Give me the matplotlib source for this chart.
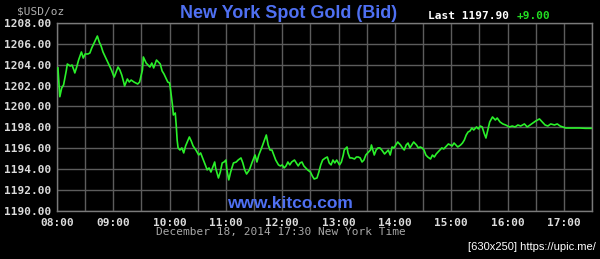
import matplotlib
matplotlib.use("Agg")
import matplotlib.pyplot as plt

# minutes after 08:00 (New York time)
minutes = [
    1, 3, 5, 7, 10, 11, 14, 16, 18, 19,
    21, 23, 26, 28, 30, 33, 35, 37, 39, 40,
    43, 45, 47, 49, 51, 53, 55, 58, 60, 61,
    63, 65, 67, 69, 71, 72, 75, 77, 79, 82,
    84, 86, 88, 91, 92, 95, 97, 99, 101, 103,
    106, 108, 110, 112, 114, 116, 118, 120, 121, 123,
    124, 126, 127, 128, 129, 131, 133, 135, 137, 141,
    143, 145, 148, 151, 153, 156, 158, 160, 162, 164,
    166, 168, 169, 172, 174, 176, 178, 180, 181, 183,
    185, 188, 191, 193, 196, 198, 200, 202, 205, 208,
    211, 213, 215, 218, 221, 223, 225, 227, 229, 231,
    233, 236, 238, 240, 242, 244, 246, 248, 250, 253,
    255, 257, 259, 261, 263, 265, 267, 270, 272, 274,
    277, 279, 281, 283, 286, 288, 290, 292, 294, 296,
    298, 301, 303, 305, 306, 309, 310, 312, 314, 317,
    319, 321, 323, 325, 327, 329, 331, 334, 335, 338,
    340, 342, 344, 346, 349, 351, 353, 355, 357, 359,
    361, 363, 366, 368, 370, 372, 374, 376, 378, 380,
    383, 385, 387, 389, 391, 393, 395, 398, 400, 402,
    404, 406, 408, 410, 412, 415, 417, 419, 421, 423,
    425, 427, 430, 432, 434, 436, 438, 440, 442, 444,
    447, 449, 451, 453, 455, 457, 459, 461, 464, 467,
    469, 472, 475, 478, 482, 485, 488, 491, 494, 498,
    501, 504, 507, 510, 514, 517, 520, 523, 526, 530,
    533, 536, 539, 542, 547, 552, 557, 563, 569,
]

bid = [
    1203.69, 1200.93, 1201.77, 1202.06, 1203.49, 1204.07, 1203.88, 1203.97, 1203.49, 1203.21,
    1203.78, 1204.45, 1205.22, 1204.64, 1205.03, 1205.03, 1205.12, 1205.60, 1205.99, 1206.18,
    1206.75, 1206.18, 1205.79, 1205.22, 1204.84, 1204.45, 1204.07, 1203.49, 1203.01, 1202.82,
    1203.30, 1203.78, 1203.49, 1203.01, 1202.34, 1201.96, 1202.63, 1202.34, 1202.53, 1202.34,
    1202.25, 1202.15, 1202.34, 1203.49, 1204.74, 1204.16, 1203.97, 1203.78, 1204.16, 1203.69,
    1204.45, 1204.26, 1204.07, 1203.40, 1203.11, 1202.73, 1202.34, 1202.25, 1201.58, 1200.14,
    1199.18, 1199.37, 1198.22, 1196.78, 1196.02, 1195.82, 1196.02, 1195.54, 1196.21, 1197.07,
    1196.69, 1196.21, 1195.82, 1195.34, 1195.54, 1194.86, 1194.39, 1193.91, 1194.10, 1193.71,
    1194.19, 1194.67, 1194.10, 1193.14, 1193.71, 1194.58, 1194.67, 1194.86, 1193.91, 1192.95,
    1193.71, 1194.58, 1194.67, 1194.86, 1195.06, 1194.58, 1193.91, 1193.52, 1193.91, 1194.67,
    1195.34, 1194.67, 1195.34, 1196.02, 1196.78, 1197.26, 1196.30, 1195.82, 1195.82, 1195.34,
    1194.86, 1194.39, 1194.29, 1194.39, 1194.10, 1194.29, 1194.67, 1194.39, 1194.67, 1194.86,
    1194.58, 1194.29, 1194.58, 1194.67, 1194.29, 1194.10, 1193.91, 1193.71, 1193.33, 1193.04,
    1193.14, 1193.71, 1194.39, 1194.86, 1195.06, 1195.15, 1194.58, 1194.39, 1194.86, 1194.58,
    1194.86, 1194.39, 1194.67, 1195.34, 1195.82, 1196.11, 1195.54, 1195.06, 1195.06, 1194.96,
    1195.15, 1195.15, 1195.06, 1194.67, 1194.86, 1195.34, 1195.54, 1195.82, 1196.30, 1195.34,
    1195.82, 1196.02, 1196.02, 1195.82, 1195.44, 1195.63, 1195.82, 1195.34, 1196.11, 1196.02,
    1196.30, 1196.59, 1196.30, 1196.02, 1195.82, 1196.30, 1196.49, 1196.02, 1196.30, 1196.59,
    1196.30, 1196.02, 1196.11, 1196.02, 1195.82, 1195.34, 1195.15, 1194.96, 1195.34, 1195.15,
    1195.44, 1195.63, 1195.82, 1196.02, 1195.92, 1196.21, 1196.40, 1196.30, 1196.21, 1196.49,
    1196.30, 1196.11, 1196.30, 1196.49, 1196.78, 1197.26, 1197.55, 1197.64, 1197.93, 1197.74,
    1198.03, 1197.84, 1198.12, 1198.03, 1197.45, 1196.97, 1197.74, 1198.51, 1198.99, 1198.70,
    1198.89, 1198.51, 1198.32, 1198.22, 1198.03, 1198.12, 1198.03, 1198.22, 1198.12, 1198.32,
    1198.03, 1198.22, 1198.41, 1198.60, 1198.80, 1198.51, 1198.22, 1198.12, 1198.32, 1198.22,
    1198.32, 1198.12, 1198.03, 1197.93, 1197.93, 1197.93, 1197.93, 1197.90, 1197.90,
]

hour_labels = ["08:00", "09:00", "10:00", "11:00", "12:00",
               "13:00", "14:00", "15:00", "16:00", "17:00"]
y_ticks = [1190, 1192, 1194, 1196, 1198, 1200, 1202, 1204, 1206, 1208]
last_price = "1197.90"
change = "+9.00"

assert len(minutes) == len(bid)

BG = "#000000"
GRID = "#5c5c5c"
LINE = "#2af02a"
LABEL = "#dcdcdc"
BLUE = "#4f70f2"
MONO = "DejaVu Sans Mono"

fig = plt.figure(figsize=(6.0, 2.59), dpi=100, facecolor=BG)
ax = fig.add_axes([57 / 600, 1 - 210.7 / 259, (592 - 57) / 600, (210.7 - 23) / 259])
ax.set_facecolor(BG)

ax.plot(minutes, bid, color=LINE, lw=1.2, zorder=3)

ax.set_xlim(0, 570)
ax.set_ylim(1190, 1208)
ax.set_xticks([60 * i for i in range(len(hour_labels))])
ax.set_xticklabels(hour_labels)
ax.set_xticks([30 + 60 * i for i in range(len(hour_labels) - 1)] + [570], minor=True)
ax.set_yticks(y_ticks)
ax.set_yticklabels([f"{v:.2f}" for v in y_ticks])

ax.grid(True, which="both", color=GRID, lw=1.0, zorder=1)
ax.tick_params(axis="both", which="both", length=0, colors=LABEL)
ax.tick_params(axis="x", pad=5)
ax.tick_params(axis="y", pad=4)
for lab in ax.get_xticklabels() + ax.get_yticklabels():
    lab.set_fontfamily(MONO)
    lab.set_fontweight("bold")
    lab.set_fontsize(8)
    lab.set_color(LABEL)
for sp in ax.spines.values():
    sp.set_color("#7a7a7a")
    sp.set_linewidth(1.0)

fig.text(289 / 600, 1 - 13 / 259, "New York Spot Gold (Bid)", color=BLUE,
         fontsize=13, fontweight="bold", family="Liberation Sans",
         ha="center", va="center")
fig.text(41 / 600, 1 - 11 / 259, "$USD/oz", color="#b0b0b0",
         fontsize=8, family=MONO, ha="center", va="center")
fig.text(428 / 600, 1 - 16 / 259, f"Last {last_price}", color="#ffffff",
         fontsize=8, fontweight="bold", family=MONO, ha="left", va="center")
fig.text(517 / 600, 1 - 16 / 259, change, color="#22dd22",
         fontsize=8, fontweight="bold", family=MONO, ha="left", va="center")
fig.text(290 / 600, 1 - 203 / 259, "www.kitco.com", color=BLUE,
         fontsize=12.5, fontweight="bold", family="Liberation Sans",
         ha="center", va="center")
fig.text(281 / 600, 1 - 232 / 259, "December 18, 2014 17:30 New York Time",
         color="#a8a8a8", fontsize=8, family=MONO, ha="center", va="center")
fig.text(596 / 600, 1 - 247 / 259, "[630x250] https://upic.me/", color="#ffffff",
         fontsize=8, family="Liberation Sans", ha="right", va="center")

fig.savefig("out.png", dpi=100, facecolor=BG)
